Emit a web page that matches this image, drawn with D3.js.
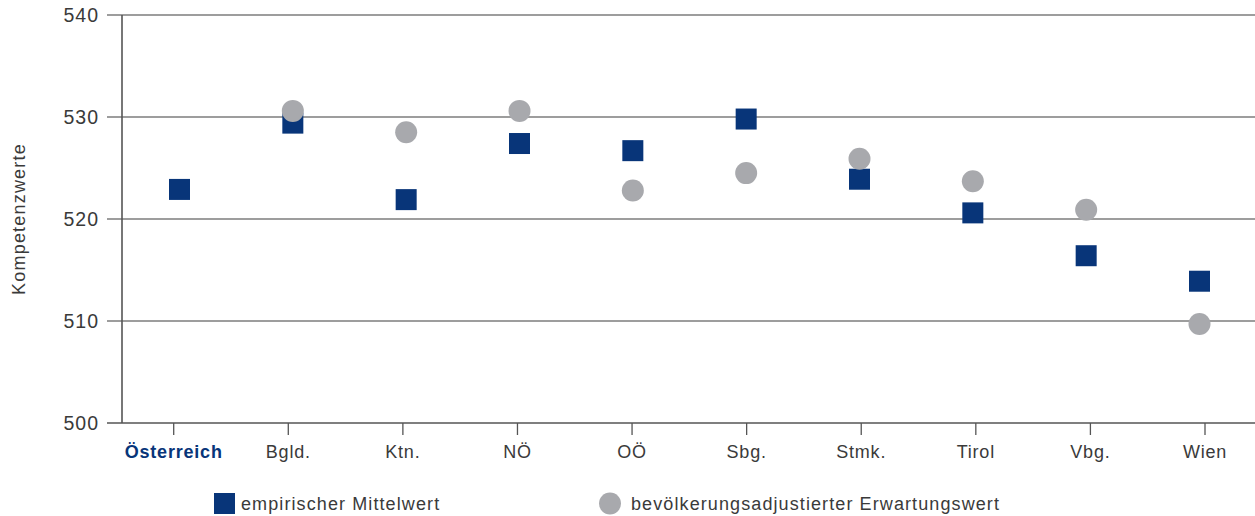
<!DOCTYPE html>
<html>
<head>
<meta charset="utf-8">
<script src="https://cdn.jsdelivr.net/npm/d3@7"></script>
<style>
  html, body { margin: 0; padding: 0; background: #fff; }
  svg { display: block; font-family: "Liberation Sans", Arial, sans-serif; }
</style>
</head>
<body>
<svg id="chart" width="1255" height="516"></svg>
<script>
/* Kompetenzwerte nach Bundesland: empirischer Mittelwert vs. Erwartungswert */
var categories = ['Österreich', 'Bgld.', 'Ktn.', 'NÖ', 'OÖ', 'Sbg.', 'Stmk.', 'Tirol', 'Vbg.', 'Wien'];
var empirisch  = [522.9, 529.4, 521.9, 527.4, 526.7, 529.8, 523.9, 520.6, 516.4, 513.9];
var erwartung  = [null, 530.6, 528.5, 530.6, 522.8, 524.5, 525.9, 523.7, 520.9, 509.7];
var yTicks     = [500, 510, 520, 530, 540];
var legendLabels = ['empirischer Mittelwert', 'bevölkerungsadjustierter Erwartungswert'];

(function () {
  'use strict';
  var NAVY = '#083579', GREY = '#a8a9ad', TEXT = '#3a3a3a';

  var svg = d3.select('#chart');
  var plotL = 122, plotR = 1255, plotT = 15, plotB = 423;

  var y = d3.scaleLinear().domain([500, 540]).range([plotB, plotT]);
  // labels / ticks and markers sit on slightly different grids in the original
  var xTick = d3.scalePoint().domain(categories).range([173.7, 1205]);
  var xMark = d3.scalePoint().domain(categories).range([179.5, 1199.5]);

  /* grid + y labels */
  var grid = svg.append('g');
  grid.selectAll('line').data(yTicks).enter().append('line')
    .attr('x1', 107).attr('x2', plotR)
    .attr('y1', function (d) { return y(d); }).attr('y2', function (d) { return y(d); })
    .attr('stroke', function (d) { return d === 500 ? '#555' : '#7d7d7d'; })
    .attr('stroke-width', 1.6);

  grid.selectAll('text').data(yTicks).enter().append('text')
    .attr('x', 99).attr('y', function (d) { return y(d) + 7; })
    .attr('text-anchor', 'end')
    .style('font-size', '19.5px').style('letter-spacing', '1px')
    .style('fill', TEXT)
    .text(function (d) { return d; });

  /* y axis line */
  svg.append('line')
    .attr('x1', plotL).attr('x2', plotL).attr('y1', plotT).attr('y2', plotB)
    .attr('stroke', '#555').attr('stroke-width', 1.6);

  /* x ticks + labels */
  var xg = svg.append('g');
  xg.selectAll('line').data(categories).enter().append('line')
    .attr('x1', function (d) { return xTick(d); }).attr('x2', function (d) { return xTick(d); })
    .attr('y1', plotB).attr('y2', plotB + 12)
    .attr('stroke', '#555').attr('stroke-width', 1.3);

  xg.selectAll('text').data(categories).enter().append('text')
    .attr('x', function (d) { return xTick(d); }).attr('y', 458)
    .attr('text-anchor', 'middle')
    .style('font-size', '18px').style('letter-spacing', '0.8px')
    .style('font-weight', function (d, i) { return i === 0 ? 'bold' : 'normal'; })
    .style('fill', function (d, i) { return i === 0 ? NAVY : TEXT; })
    .text(function (d) { return d; });

  /* y axis title */
  svg.append('text')
    .attr('transform', 'translate(25,219) rotate(-90)')
    .attr('text-anchor', 'middle')
    .style('font-size', '18px').style('letter-spacing', '1.2px')
    .style('fill', TEXT)
    .text('Kompetenzwerte');

  /* markers: squares first, circles on top */
  var S = 21;
  svg.append('g').selectAll('rect').data(empirisch).enter().append('rect')
    .attr('x', function (d, i) { return xMark(categories[i]) - S / 2; })
    .attr('y', function (d) { return y(d) - S / 2; })
    .attr('width', S).attr('height', S)
    .attr('fill', NAVY);

  svg.append('g').selectAll('circle')
    .data(erwartung.map(function (v, i) { return { c: categories[i], v: v }; })
      .filter(function (d) { return d.v != null; }))
    .enter().append('circle')
    .attr('cx', function (d) { return xMark(d.c); })
    .attr('cy', function (d) { return y(d.v); })
    .attr('r', 11)
    .attr('fill', GREY);

  /* legend */
  var lg = svg.append('g');
  lg.append('rect').attr('x', 214).attr('y', 493).attr('width', S).attr('height', S).attr('fill', NAVY);
  lg.append('text').attr('x', 241).attr('y', 510)
    .style('font-size', '18px').style('letter-spacing', '1.1px').style('fill', TEXT)
    .text(legendLabels[0]);
  lg.append('circle').attr('cx', 610).attr('cy', 503.5).attr('r', 11).attr('fill', GREY);
  lg.append('text').attr('x', 631).attr('y', 510)
    .style('font-size', '18px').style('letter-spacing', '1.1px').style('fill', TEXT)
    .text(legendLabels[1]);
})();
</script>
</body>
</html>
